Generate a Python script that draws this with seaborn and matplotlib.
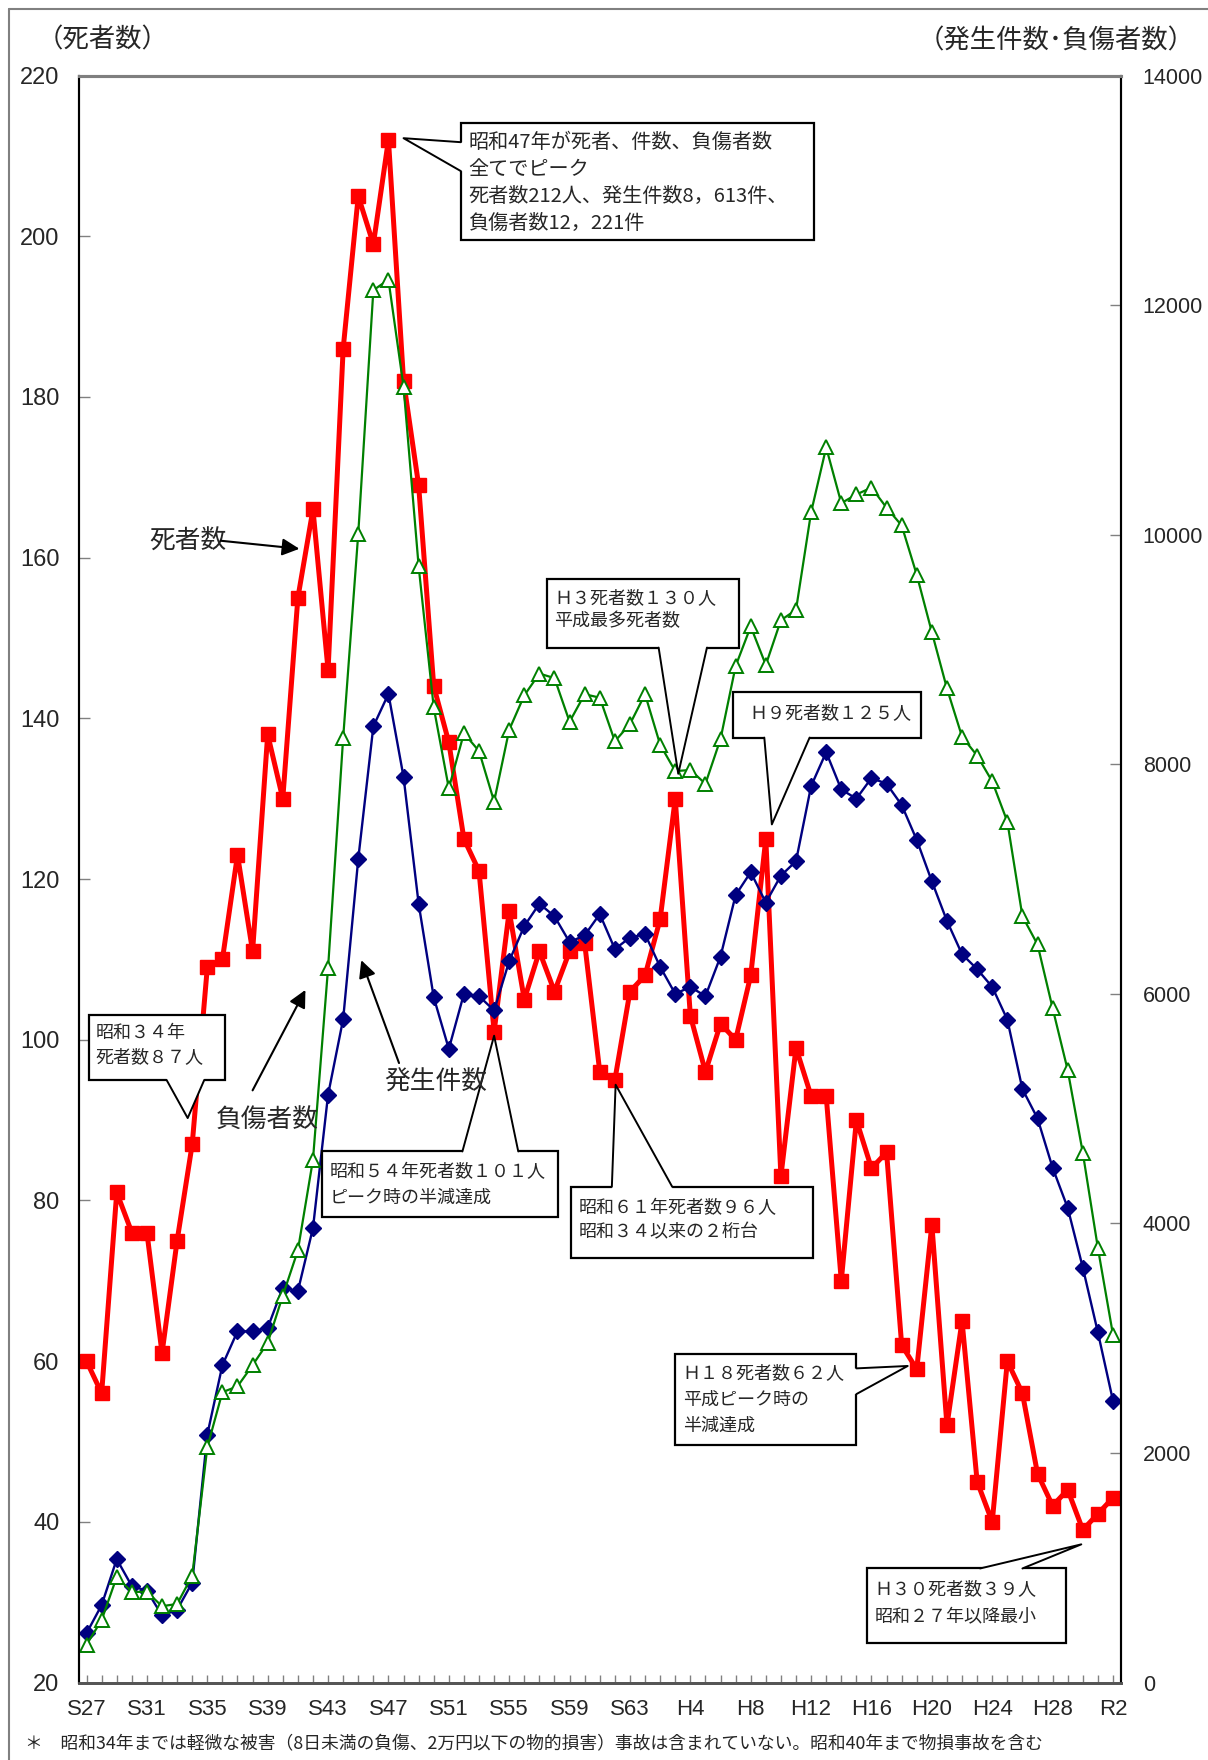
import matplotlib
matplotlib.use('Agg')
import pandas as pd
import seaborn as sns
import matplotlib.pyplot as plt
from matplotlib.patches import Rectangle, Polygon
from matplotlib.lines import Line2D

# year labels S27 .. S63, H1 .. H30, R1, R2
years = ['S%d' % y for y in range(27, 64)] + ['H%d' % y for y in range(1, 31)] + ['R1', 'R2']

deaths = [60, 56, 81, 76, 76, 61, 75, 87, 109, 110,
          123, 111, 138, 130, 155, 166, 146, 186, 205, 199,
          212, 182, 169, 144, 137, 125, 121, 101, 116, 105,
          111, 106, 111, 112, 96, 95, 106, 108, 115, 130,
          103, 96, 102, 100, 108, 125, 83, 99, 93, 93,
          70, 90, 84, 86, 62, 59, 77, 52, 65, 45,
          40, 60, 56, 46, 42, 44, 39, 41, 43]

accidents = [430, 675, 1075, 840, 800, 585, 635, 870, 2160, 2765,
             3060, 3060, 3090, 3440, 3410, 3960, 5120, 5780, 7175, 8330,
             8613, 7890, 6785, 5970, 5520, 6000, 5980, 5855, 6285, 6590,
             6785, 6675, 6450, 6510, 6695, 6390, 6490, 6520, 6235, 6000,
             6060, 5980, 6325, 6860, 7060, 6795, 7030, 7155, 7810, 8105,
             7780, 7700, 7880, 7830, 7645, 7340, 6980, 6635, 6345, 6215,
             6060, 5775, 5170, 4915, 4485, 4135, 3615, 3050, 2455]

injured = [330, 545, 920, 790, 790, 665, 685, 930, 2050, 2530,
           2580, 2765, 2960, 3370, 3765, 4555, 6225, 8230, 10010, 12130,
           12221, 11290, 9725, 8495, 7790, 8270, 8115, 7675, 8300, 8600,
           8790, 8750, 8370, 8610, 8580, 8200, 8350, 8610, 8170, 7940,
           7950, 7830, 8220, 8855, 9200, 8865, 9255, 9345, 10195, 10760,
           10275, 10350, 10410, 10235, 10080, 9650, 9150, 8660, 8240, 8075,
           7850, 7500, 6675, 6430, 5875, 5335, 4615, 3785, 3030]

left_ticks = list(range(20, 221, 20))
right_ticks = list(range(0, 14001, 2000))

sns.set_theme(style='white')
plt.rcParams['font.family'] = ['Noto Sans CJK JP', 'DejaVu Sans']
tick_font = ['Liberation Sans Narrow', 'Liberation Sans', 'DejaVu Sans']

df = pd.DataFrame({'idx': range(len(years)), 'year': years,
                   'deaths': deaths, 'accidents': accidents, 'injured': injured})

fig = plt.figure(figsize=(12.08, 17.6), dpi=100)
ax = fig.add_axes([0.0654, 0.0440, 0.8622, 0.9131])
ax2 = ax.twinx()

sns.lineplot(data=df, x='idx', y='deaths', ax=ax, color='#FF0000', linewidth=3.6,
             marker='s', markersize=10.5, markeredgecolor='#FF0000', markeredgewidth=1)
sns.lineplot(data=df, x='idx', y='accidents', ax=ax2, color='#000080', linewidth=1.7,
             marker='D', markersize=8, markeredgecolor='#000080', markeredgewidth=1)
sns.lineplot(data=df, x='idx', y='injured', ax=ax2, color='#008000', linewidth=1.6,
             marker='^', markersize=10.5, markerfacecolor='white',
             markeredgecolor='#008000', markeredgewidth=1.4)

ax.set_xlim(-0.5, len(years) - 0.5)
ax.set_ylim(20, 220)
ax2.set_ylim(0, 14000)
ax.set_xlabel('')
ax.set_ylabel('')
ax2.set_ylabel('')

ax.set_xticks(range(len(years)))
ax.set_xticklabels([y if i % 4 == 0 else '' for i, y in enumerate(years)],
                   fontfamily=tick_font, fontsize=16)
ax.set_yticks(left_ticks)
ax.set_yticklabels([str(v) for v in left_ticks], fontfamily=tick_font, fontsize=17)
ax2.set_yticks(right_ticks)
ax2.set_yticklabels([str(v) for v in right_ticks], fontfamily=tick_font, fontsize=15.5)

ax.tick_params(axis='x', bottom=True, direction='in', length=6, width=1, color='#808080', pad=12)
ax.tick_params(axis='y', left=True, direction='in', length=8, width=1, color='#808080', pad=14)
ax2.tick_params(axis='y', right=True, direction='in', length=8, width=1, color='#808080', pad=16)

for a in (ax, ax2):
    a.spines['top'].set_color('#7f7f7f')
    a.spines['top'].set_linewidth(2.2)
    a.spines['bottom'].set_color('#555555')
    a.spines['bottom'].set_linewidth(2)
    a.spines['left'].set_color('black')
    a.spines['left'].set_linewidth(1.5)
    a.spines['right'].set_color('black')
    a.spines['right'].set_linewidth(1.5)

tr = ax.transData


def callout(box, base, inward, tip, text, fs, txy, ls):
    x0, y0, x1, y1 = box
    ax2.add_patch(Rectangle((x0, y0), x1 - x0, y1 - y0, transform=tr,
                            facecolor='white', edgecolor='black', lw=1.6, zorder=10))
    (bx0, by0), (bx1, by1) = base
    dx, dy = inward
    ax2.add_patch(Polygon([(bx0 + dx, by0 + dy), (bx0, by0), tip, (bx1, by1), (bx1 + dx, by1 + dy)],
                          closed=True, transform=tr, facecolor='white', edgecolor='none', zorder=11))
    ax2.add_line(Line2D([bx0, tip[0], bx1], [by0, tip[1], by1], transform=tr,
                        color='black', lw=1.4, zorder=12))
    ax2.text(txy[0], txy[1], text, transform=tr, ha='left', va='top', fontsize=fs,
             linespacing=ls, zorder=13)


callout((24.8, 199.5, 48.2, 214.1), [(24.8, 211.7), (24.8, 208.1)], (0.4, 0), (21.0, 212.2),
        '昭和47年が死者、件数、負傷者数\n全てでピーク\n死者数212人、発生件数8，613件、\n負傷者数12，221件',
        14.5, (25.3, 213.0), 1.38)
callout((30.5, 148.8, 43.2, 157.3), [(37.9, 148.8), (41.1, 148.8)], (0, 0.6), (39.2, 133.1),
        'Ｈ３死者数１３０人\n平成最多死者数', 13, (31.0, 156.1), 1.4)
callout((42.8, 137.6, 55.3, 143.3), [(44.9, 137.6), (47.9, 137.6)], (0, 0.6), (45.4, 126.8),
        'Ｈ９死者数１２５人', 13, (43.9, 141.8), 1.4)
callout((0.18, 95.0, 9.2, 103.1), [(5.3, 95.0), (7.8, 95.0)], (0, 0.6), (6.7, 90.25),
        '昭和３４年\n死者数８７人', 13, (0.6, 101.9), 1.4)
callout((15.6, 78.0, 31.2, 86.1), [(24.9, 86.1), (28.6, 86.1)], (0, -0.6), (27.0, 100.5),
        '昭和５４年死者数１０１人\nピーク時の半減達成', 13, (16.1, 84.6), 1.55)
callout((32.1, 72.8, 48.1, 81.7), [(34.8, 81.7), (38.8, 81.7)], (0, -0.6), (35.05, 94.4),
        '昭和６１年死者数９６人\n昭和３４以来の２桁台', 13, (32.6, 80.2), 1.45)
callout((39.0, 49.6, 51.0, 60.9), [(51.0, 59.1), (51.0, 55.9)], (-0.4, 0), (54.4, 59.4),
        'Ｈ１８死者数６２人\n平成ピーク時の\n半減達成', 13, (39.5, 59.6), 1.58)
callout((51.7, 24.9, 64.9, 34.2), [(59.2, 34.2), (62.0, 34.2)], (0, -0.6), (65.9, 37.2),
        'Ｈ３０死者数３９人\n昭和２７年以降最小', 13, (52.2, 32.7), 1.6)

arrow = dict(arrowstyle='-|>', color='black', lw=1.5, mutation_scale=26, shrinkA=0, shrinkB=0)
for label, pos, start, end in [('死者数', (6.7, 162.0), (8.9, 162.1), (14.1, 161.1)),
                               ('負傷者数', (12.0, 89.9), (11.0, 93.7), (14.5, 106.2)),
                               ('発生件数', (23.1, 94.6), (20.7, 97.1), (18.2, 109.9))]:
    ax2.text(pos[0], pos[1], label, transform=tr, ha='center', va='center', fontsize=18.5, zorder=13)
    ax2.annotate('', xy=end, xytext=start, xycoords=tr, textcoords=tr, arrowprops=arrow, zorder=13)

fig.text(0.085, 0.9775, '（死者数）', ha='center', va='center', fontsize=19)
fig.text(0.874, 0.9765, '（発生件数･負傷者数）', ha='center', va='center', fontsize=19)
fig.text(0.021, 0.009, '＊　昭和34年までは軽微な被害（8日未満の負傷、2万円以下の物的損害）事故は含まれていない。昭和40年まで物損事故を含む',
         ha='left', va='center', fontsize=12.8)

# outer frame (left and top edges)
fig.add_artist(Line2D([0.0075, 0.0075], [0, 0.995], transform=fig.transFigure, color='#808080', lw=1.5))
fig.add_artist(Line2D([0.0075, 1.0], [0.995, 0.995], transform=fig.transFigure, color='#808080', lw=1.5))

fig.savefig('out.png', dpi=100)
